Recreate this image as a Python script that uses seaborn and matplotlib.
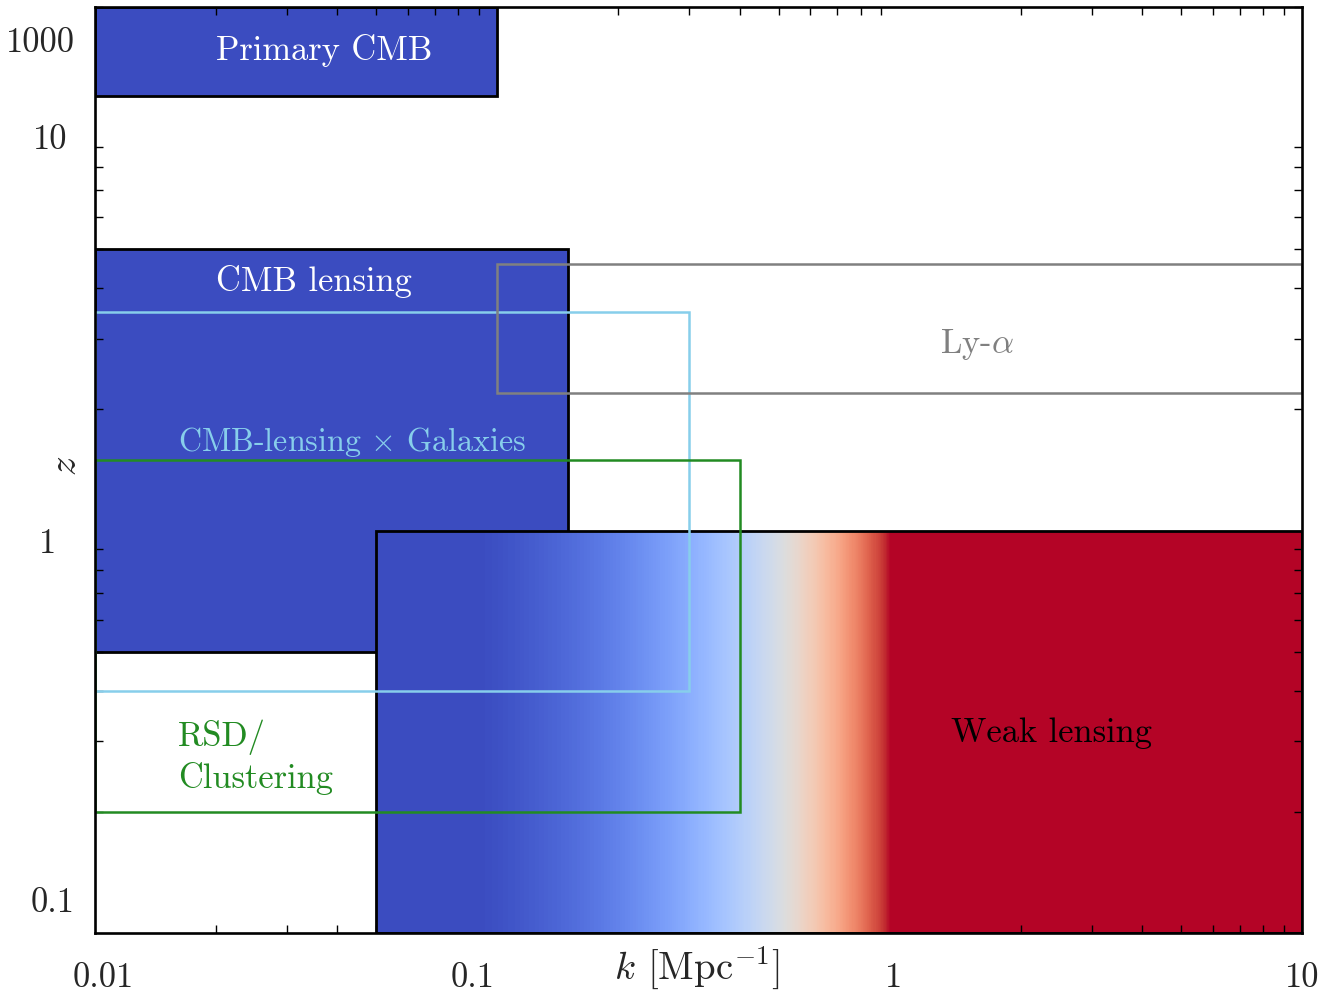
import numpy as np
import matplotlib
matplotlib.use("Agg")
import matplotlib.pyplot as plt
from matplotlib.patches import Rectangle
from matplotlib.ticker import NullFormatter
from matplotlib.transforms import blended_transform_factory, offset_copy
import seaborn as sns

# ---------------- data ----------------
probe_names = ["Primary CMB", "CMB lensing", "Weak lensing",
               "CMB-lensing $\\times$ Galaxies", "RSD/\nClustering", "Ly-$\\alpha$"]
k_lo = [0.01, 0.01, 0.05, 0.01, 0.01, 0.1]
k_hi = [0.1, 0.15, 10.0, 0.3, 0.4, 10.0]
z_lo = [12.0, 0.5, 0.1, 0.4, 0.2, 2.2]
z_hi = [20.0, 5.0, 1.0, 3.5, 1.5, 4.6]

# weak-lensing colour ramp (k where the colour leaves blue / reaches red)
wl_ramp_k = [0.09, 0.95]

x_tick_vals = [0.01, 0.1, 1, 10]
x_tick_labels = ["0.01", "0.1", "1", "10"]
y_tick_vals = [0.1, 1, 10, 15.5]
y_tick_labels = ["0.1", "1", "10", "1000"]

# ---------------- style ----------------
sns.set_theme(style="white")
plt.rcParams["font.family"] = ["cmr10", "DejaVu Serif"]
plt.rcParams["mathtext.fontset"] = "cm"
plt.rcParams["axes.formatter.use_mathtext"] = True
FS = 24.8
FS_SMALL = 23.1
FS_AX = 28

cmap = sns.color_palette("coolwarm", as_cmap=True)
blue = cmap(0.0)
red = cmap(1.0)

W, H = 1320, 996
fig = plt.figure(figsize=(W / 100, H / 100), dpi=100)
ax = fig.add_axes([95 / W, (H - 933) / H, 1207 / W, 926 / H])
ax.set_xscale("log")
ax.set_yscale("log")
ax.set_xlim(0.01, 10)
ax.set_ylim(0.1, 20)
ax.set_axisbelow("line")

edge_lw = 2.0
line_lw = 1.8

# Primary CMB and CMB lensing (filled)
for i in (0, 1):
    ax.add_patch(Rectangle((k_lo[i], z_lo[i]), k_hi[i] - k_lo[i], z_hi[i] - z_lo[i],
                           facecolor=blue, edgecolor="black", lw=edge_lw, zorder=1 + 0.1 * i))

# Weak lensing: red part, gradient part, outline
i = 2
ax.add_patch(Rectangle((1.0, z_lo[i]), k_hi[i] - 1.0, z_hi[i] - z_lo[i],
                       facecolor=red, edgecolor="none", zorder=1.2))
kedges = np.logspace(np.log10(k_lo[i]), 0, 500)
kc = np.sqrt(kedges[:-1] * kedges[1:])
vals = np.clip((kc - wl_ramp_k[0]) / (wl_ramp_k[1] - wl_ramp_k[0]), 0, 1)
ax.pcolormesh(kedges, [z_lo[i], z_hi[i]], vals[None, :], cmap=cmap, vmin=0, vmax=1,
              shading="flat", edgecolors="none", antialiased=False, zorder=1.6)
ax.add_patch(Rectangle((k_lo[i], z_lo[i]), k_hi[i] - k_lo[i], z_hi[i] - z_lo[i],
                       fill=False, edgecolor="black", lw=edge_lw, zorder=1.7))

# outlined probes
outline_colors = {3: "skyblue", 4: "forestgreen", 5: "gray"}
for i, c in outline_colors.items():
    ax.add_patch(Rectangle((k_lo[i], z_lo[i]), k_hi[i] - k_lo[i], z_hi[i] - z_lo[i],
                           fill=False, edgecolor=c, lw=line_lw, zorder=2))

# probe labels
ax.text(0.02, 14.8, probe_names[0], color="white", fontsize=FS, ha="left", va="baseline", zorder=3)
ax.text(0.02, 3.94, probe_names[1], color="white", fontsize=FS, ha="left", va="baseline", zorder=3)
ax.text(2.39, 0.298, probe_names[2], color="black", fontsize=FS, ha="center", va="baseline", zorder=3)
ax.text(0.0161, 1.58, probe_names[3], color="skyblue", fontsize=FS_SMALL, ha="left", va="baseline", zorder=3)
ax.text(0.0161, 0.273, probe_names[4], color="forestgreen", fontsize=FS, ha="left", va="center",
        linespacing=1.27, zorder=3)
ax.text(1.557, 2.77, probe_names[5], color="gray", fontsize=FS, ha="center", va="baseline", zorder=3)

# ticks
ax.tick_params(which="both", direction="in", top=True, right=True, bottom=True, left=True,
               labelbottom=False, labelleft=False)
ax.tick_params(which="major", length=0)
ax.tick_params(which="minor", length=6, width=1, color="black")
ax.xaxis.set_minor_formatter(NullFormatter())
ax.yaxis.set_minor_formatter(NullFormatter())
ax.set_xticks(x_tick_vals)
ax.set_yticks(y_tick_vals[:3])
for s in ax.spines.values():
    s.set_linewidth(1.9)
    s.set_color("black")
    s.set_zorder(2.5)

# tick labels (placed like the reference)
tx = blended_transform_factory(ax.transData, fig.transFigure)
x_dx = [8, -25, -6, 0]
for v, lab, dx in zip(x_tick_vals, x_tick_labels, x_dx):
    ax.text(v, (H - 987) / H, lab, fontsize=FS, ha="center", va="baseline",
            transform=offset_copy(tx, fig=fig, x=dx, y=0, units="dots"), clip_on=False)
ty = blended_transform_factory(fig.transFigure, ax.transData)
y_right = [75, 56, 67, 75]
y_dy = [21, -22, -21, 0]
for v, lab, xr, dy in zip(y_tick_vals, y_tick_labels, y_right, y_dy):
    ax.text(xr / W, v, lab, fontsize=FS, ha="right", va="baseline",
            transform=offset_copy(ty, fig=fig, x=0, y=dy, units="dots"), clip_on=False)

# axis labels
fig.text(697 / W, (H - 980) / H, r"$k$ [Mpc$^{-1}$]", fontsize=FS_AX, ha="center", va="baseline")
fig.text(66 / W, (H - 466) / H, r"$z$", fontsize=FS_AX, ha="center", va="center", rotation=90)

fig.savefig("out.png", dpi=100)
